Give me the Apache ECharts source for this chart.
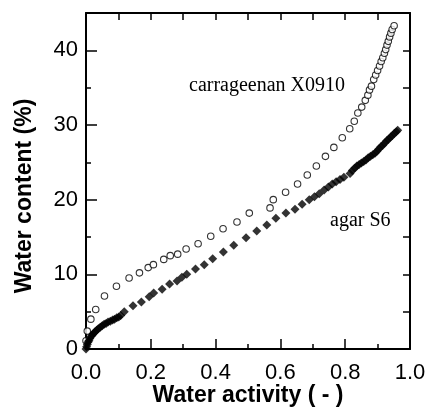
<!DOCTYPE html>
<html><head><meta charset="utf-8">
<script src="https://cdn.jsdelivr.net/npm/echarts@6/dist/echarts.min.js"></script>
<style>html,body{margin:0;padding:0;background:#fff}#c{width:431px;height:408px}</style>
</head><body><div id="c"></div>
<script>
const xTickLabels = ['0.0','0.2','0.4','0.6','0.8','1.0'];
const yTickLabels = ['0','10','20','30','40'];
const xName = 'Water activity ( - )';
const yName = 'Water content (%)';
const carrLabel = 'carrageenan X0910';
const agarLabel = 'agar S6';

const carrAw = [0.0,0.004,0.015,0.03,0.057,0.094,0.133,0.165,0.192,0.208,0.24,0.26,0.283,0.309,0.346,0.385,0.423,0.466,0.504,0.568,0.578,0.616,0.653,0.683,0.711,0.739,0.765,0.791,0.814,0.828,0.839,0.851,0.862,0.870,0.875,0.881,0.888,0.894,0.900,0.906,0.911,0.916,0.921,0.925,0.929,0.933,0.937,0.941,0.945,0.951];
const carrW  = [1.1,2.4,4.0,5.3,7.1,8.4,9.5,10.2,10.9,11.3,12.0,12.5,12.7,13.4,14.1,15.1,16.1,17.0,18.2,18.9,20.0,21.0,22.1,23.3,24.5,25.8,27.0,28.3,29.5,30.5,31.6,32.4,33.3,34.0,34.7,35.2,36.1,36.7,37.3,37.9,38.5,39.0,39.6,40.1,40.7,41.2,41.8,42.3,42.8,43.3];

const agarAw = [0.0,0.002,0.004,0.006,0.009,0.012,0.016,0.02,0.024,0.028,0.033,0.038,0.044,0.05,0.056,0.062,0.068,0.075,0.082,0.088,0.095,0.101,0.107,0.118,0.145,0.171,0.195,0.209,0.235,0.258,0.281,0.296,0.311,0.338,0.365,0.391,0.424,0.456,0.494,0.527,0.558,0.586,0.617,0.645,0.667,0.689,0.705,0.72,0.735,0.748,0.76,0.772,0.784,0.796,0.815,0.822,0.829,0.836,0.843,0.85,0.857,0.864,0.871,0.878,0.885,0.892,0.898,0.904,0.91,0.916,0.922,0.928,0.934,0.94,0.946,0.952,0.958,0.962];
const agarW  = [0.0,0.3,0.6,0.9,1.1,1.4,1.7,1.9,2.1,2.3,2.5,2.7,2.9,3.1,3.3,3.4,3.6,3.7,3.9,4.0,4.2,4.3,4.5,5.0,5.8,6.3,7.0,7.5,8.0,8.7,9.1,9.6,10.0,10.7,11.3,12.1,13.0,13.9,14.9,15.8,16.6,17.5,18.2,18.7,19.4,20.0,20.4,20.8,21.3,21.7,22.1,22.4,22.7,23.0,23.5,23.9,24.2,24.5,24.7,24.9,25.1,25.3,25.6,25.8,26.0,26.2,26.5,26.8,27.1,27.3,27.6,27.9,28.1,28.4,28.6,28.9,29.1,29.3];

const carrData = carrAw.map((x,i)=>[x,carrW[i]]);
const agarData = agarAw.map((x,i)=>[x,agarW[i]]);

const line = {show:true, onZero:false, lineStyle:{color:'#000', width:2}};
const noSplit = {show:false};
const tickStyle = {color:'#000', width:1.5};
const sans = '"Liberation Sans", Arial, sans-serif';
const serifFont = '20px "Liberation Serif", "Times New Roman", serif';
const G = {left:86, top:13, width:324, height:336, containLabel:false, outerBoundsMode:'none'};

const chart = echarts.init(document.getElementById('c'), null, {renderer:'canvas'});
chart.setOption({
  animation:false,
  backgroundColor:'#fff',
  grid:[Object.assign({}, G), Object.assign({}, G)],
  xAxis:[
    {gridIndex:0, type:'value', position:'bottom', min:0, max:1, interval:0.2,
     axisLine:line, splitLine:noSplit,
     axisTick:{show:true, inside:true, length:10, lineStyle:tickStyle},
     minorTick:{show:true, splitNumber:2, length:5, lineStyle:tickStyle},
     axisLabel:{margin:13, fontFamily:sans, fontSize:22, color:'#000',
       formatter:v=>xTickLabels[Math.round(v*5)]},
     name:xName, nameLocation:'middle', nameGap:35, nameMoveOverlap:false,
     nameTextStyle:{fontFamily:sans, fontSize:23, fontWeight:'bold', color:'#000'}},
    {gridIndex:0, type:'value', position:'top', min:0, max:1, interval:0.1,
     axisLine:line, splitLine:noSplit, axisLabel:{show:false},
     axisTick:{show:true, inside:true, length:7, lineStyle:tickStyle}},
    {gridIndex:1, type:'value', position:'bottom', min:0, max:1, interval:0.2, show:false}
  ],
  yAxis:[
    {gridIndex:0, type:'value', position:'left', min:0, max:45, interval:5,
     axisLine:line, splitLine:noSplit,
     axisTick:{show:true, inside:true, length:5, lineStyle:tickStyle},
     axisLabel:{margin:8, fontFamily:sans, fontSize:22, color:'#000',
       formatter:v=>{const k=Math.round(v); return k%10===0 && k<=40 ? yTickLabels[k/10] : '';}},
     name:yName, nameLocation:'middle', nameGap:50, nameRotate:90, nameMoveOverlap:false,
     nameTextStyle:{fontFamily:sans, fontSize:23, fontWeight:'bold', color:'#000', padding:[0,30,0,0]}},
    {gridIndex:0, type:'value', position:'right', min:0, max:45, interval:5,
     axisLine:line, splitLine:noSplit, axisLabel:{show:false},
     axisTick:{show:true, inside:true, length:7, lineStyle:tickStyle}},
    {gridIndex:1, type:'value', position:'left', min:0, max:45, interval:10,
     axisLine:{show:false, onZero:false}, splitLine:noSplit, axisLabel:{show:false},
     axisTick:{show:true, inside:true, length:11, lineStyle:tickStyle}}
  ],
  series:[
    {type:'scatter', name:carrLabel, data:carrData, xAxisIndex:0, yAxisIndex:0,
     symbol:'circle', symbolSize:6.5, clip:false,
     itemStyle:{color:'#fff', borderColor:'#000', borderWidth:1.1}},
    {type:'scatter', name:agarLabel, data:agarData, xAxisIndex:0, yAxisIndex:0,
     symbol:'diamond', symbolSize:9, clip:false, itemStyle:{color:'#000'}}
  ],
  graphic:[
    {type:'text', left:189, top:76, style:{text:carrLabel, font:serifFont, fill:'#000'}},
    {type:'text', left:330, top:211, style:{text:agarLabel, font:serifFont, fill:'#000'}}
  ]
});
</script></body></html>
